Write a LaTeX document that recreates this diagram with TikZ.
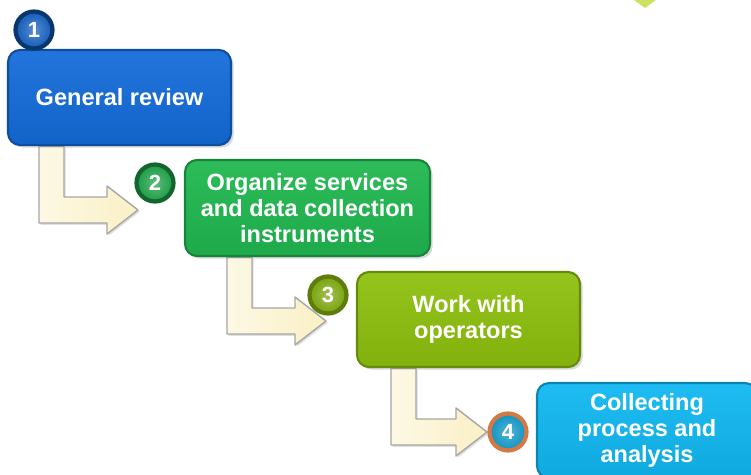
\documentclass[tikz,border=0pt]{standalone}
\usepackage{fontspec}
\setmainfont{Liberation Sans}
\usetikzlibrary{calc,shadows,backgrounds}

\definecolor{stepblue}{RGB}{20,108,218}
\definecolor{stepgreen}{RGB}{32,184,80}
\definecolor{stepolive}{RGB}{142,192,14}
\definecolor{stepcyan}{RGB}{16,184,242}
\definecolor{cream}{RGB}{250,240,196}
\definecolor{ringorange}{RGB}{214,120,66}
\definecolor{tiplime}{RGB}{204,226,96}

\tikzset{
  stepbox/.style={rectangle, rounded corners=0.24cm, draw=#1!72!black, line width=1.2pt,
    top color=#1!94!white, bottom color=#1!92!black, text=white, align=center,
    font=\fontsize{13.4}{14.6}\selectfont\bfseries, inner sep=0pt,
    drop shadow={opacity=0.3, shadow xshift=1.5pt, shadow yshift=-1.5pt}},
  stepnum/.style 2 args={circle, minimum size=0.74cm, inner sep=0pt, line width=2.4pt,
    draw=#1, inner color=#2!70!white, outer color=#2, text=white,
    font=\fontsize{12.5}{13}\selectfont\bfseries},
  arrowbody/.style={draw=black!35, line width=0.8pt, line join=round,
    left color=cream!45!white, right color=cream,
    drop shadow={opacity=0.25, shadow xshift=1pt, shadow yshift=-1pt}}
}

% L-shaped block arrow: #1 = top left of the stem, #2 = tip
\newcommand\steparrow[2]{%
  \draw[arrowbody] let \p1=(#1), \p2=(#2) in
    (\p1) -- (\x1+0.5cm,\y1) -- (\x1+0.5cm,\y2+0.26cm) -- (\x2-0.62cm,\y2+0.26cm)
    -- (\x2-0.62cm,\y2+0.48cm) -- (\p2) -- (\x2-0.62cm,\y2-0.48cm)
    -- (\x2-0.62cm,\y2-0.26cm) -- (\x1,\y2-0.26cm) -- cycle;}

\begin{document}
\begin{tikzpicture}[x=0.02cm,y=-0.02cm]
\useasboundingbox (0,0) rectangle (751,474);
\clip (0,0) rectangle (751,474);

\fill[tiplime] (634,0) -- (656,0) -- (645,8) -- cycle;

% steps
\node[stepbox=stepblue, minimum width=4.46cm, minimum height=1.9cm] (box1) at (119.5,97.5) {General review};
\node[stepbox=stepgreen, minimum width=4.9cm, minimum height=1.92cm] (box2) at (307.5,208) {Organize services\\and data collection\\instruments};
\node[stepbox=stepolive, minimum width=4.46cm, minimum height=1.9cm] (box3) at (468.5,319.5) {Work with\\operators};
\node[stepbox=stepcyan, minimum width=4.4cm, minimum height=1.9cm] (box4) at (647,430.5) {Collecting\\process and\\analysis};

% arrows between the steps
\path
(box1.south west) ++(32,0) coordinate (s1)
(138,210) coordinate (t1)
(box2.south west) ++(43,0) coordinate (s2)
(326,321) coordinate (t2)
(box3.south west) ++(35,0) coordinate (s3)
(487,432) coordinate (t3)
;
\begin{scope}[on background layer]
\foreach \i in {1,2,3} \steparrow{s\i}{t\i};
\end{scope}

% step numbers
\foreach \n/\pos/\ring/\ball in {1/{(34,30)}/{stepblue!50!black}/{stepblue!85!black},
  2/{(155,183)}/{stepgreen!55!black}/{stepgreen!85!black},
  3/{(328,295)}/{stepolive!65!black}/{stepolive!85!black},
  4/{(508,432)}/ringorange/{stepcyan!80!black}}
\node[stepnum={\ring}{\ball}] (num\n) at \pos {\n};
\end{tikzpicture}
\end{document}
